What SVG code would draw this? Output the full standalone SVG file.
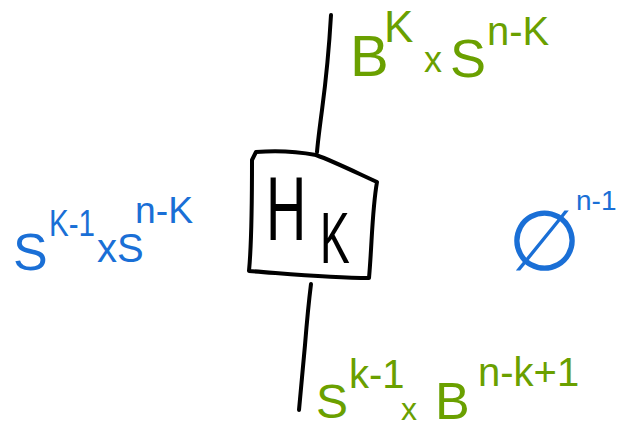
<svg xmlns="http://www.w3.org/2000/svg" width="621" height="432" viewBox="0 0 621 432">
<style>
.ink{fill:none;stroke:#000;stroke-width:4;stroke-linecap:round;stroke-linejoin:round}
.g{fill:#6aa000;font-family:"Liberation Sans","DejaVu Sans",sans-serif}
.b{fill:#1a6fd6;font-family:"Liberation Sans","DejaVu Sans",sans-serif}
.k{fill:#000;font-family:"Liberation Sans","DejaVu Sans",sans-serif}
</style>
<rect width="621" height="432" fill="#fff"/>
<g id="connectors">
<path class="ink" d="M331,15 C329,50 326,80 322,110 C320,125 318,140 317,152"/>
<path class="ink" d="M311,284 C309,300 307,320 305,345 C303,365 301,390 299,410"/>
</g>
<g id="node-Hk">
<path class="ink" d="M256,152 C280,150 300,152 316,155 C335,162 355,172 377,182 C372,210 372,245 369,278 C330,278 290,274 249,271 C252,240 252,200 252,160 Z"/>
<text class="k" transform="translate(266,240) scale(0.62,1)"><tspan font-size="90">H</tspan><tspan font-size="72" dx="22" dy="23">K</tspan></text>
</g>
<g id="label-top">
<text class="g" x="350" y="76" font-size="58">B</text>
<text class="g" x="384" y="42" font-size="44">K</text>
<text class="g" x="424" y="72" font-size="36">x</text>
<text class="g" x="450" y="77" font-size="54">S</text>
<text class="g" x="487" y="45" font-size="40">n-K</text>
</g>
<g id="label-bottom">
<text class="g" x="316" y="418" font-size="48">S</text>
<text class="g" x="349" y="388" font-size="40">k-1</text>
<text class="g" x="401" y="420" font-size="32">x</text>
<text class="g" x="435" y="419" font-size="52">B</text>
<text class="g" x="478" y="386" font-size="40">n-k+1</text>
</g>
<g id="label-left">
<text class="b" x="13" y="270" font-size="52">S</text>
<text class="b" x="49" y="236" font-size="36" textLength="46" lengthAdjust="spacingAndGlyphs">K-1</text>
<text class="b" x="97" y="262" font-size="40">xS</text>
<text class="b" x="135" y="223" font-size="36" textLength="58" lengthAdjust="spacingAndGlyphs">n-K</text>
</g>
<g id="label-right">
<text class="b" x="508" y="270" font-size="84">∅</text>
<text class="b" x="576" y="210" font-size="28">n-1</text>
</g>
</svg>
